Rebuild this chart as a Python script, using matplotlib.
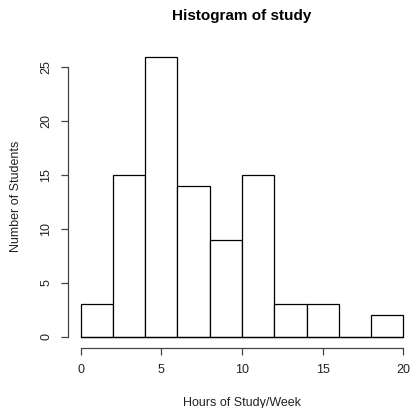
import numpy as np
import matplotlib
matplotlib.use('Agg')
import matplotlib.pyplot as plt

plt.rcParams['font.family'] = ['Liberation Sans', 'DejaVu Sans']

# histogram data
bin_edges = [0, 2, 4, 6, 8, 10, 12, 14, 16, 18, 20]
counts = [3, 15, 26, 14, 9, 15, 3, 3, 0, 2]
x_ticks = [0, 5, 10, 15, 20]
y_ticks = [0, 5, 10, 15, 20, 25]

W, H = 412, 408
fig = plt.figure(figsize=(W / 100, H / 100), dpi=100)

# plot region in pixels (x=0..20, y=0..26)
x0, x1 = 80.7, 403.3
y0, y1 = 336.7, 56.7
ax = fig.add_axes([x0 / W, (H - y0) / H, (x1 - x0) / W, (y0 - y1) / H])

widths = np.diff(bin_edges)
bars = ax.bar(bin_edges[:-1], counts, width=widths, align='edge',
              facecolor='white', edgecolor='black', linewidth=0.9)
for b in bars:
    b.set_clip_on(False)
# R draws the empty bins too, so the baseline runs the full width
ax.plot([bin_edges[0], bin_edges[-1]], [0, 0], color='black', lw=0.9,
        clip_on=False, zorder=3)

ax.set_xlim(0, 20)
ax.set_ylim(0, 26)

for s in ['top', 'right']:
    ax.spines[s].set_visible(False)
ax.spines['left'].set_position(('outward', 13 * 0.72))
ax.spines['bottom'].set_position(('outward', 11.3 * 0.72))
ax.spines['left'].set_bounds(0, 25)
ax.spines['bottom'].set_bounds(0, 20)
for s in ['left', 'bottom']:
    ax.spines[s].set_color('#444444')
    ax.spines[s].set_linewidth(0.9)

ax.set_xticks(x_ticks)
ax.set_yticks(y_ticks)
ax.tick_params(direction='out', length=5, width=0.9, color='#444444',
               labelsize=9, labelcolor='#222222')
ax.tick_params(axis='x', pad=6.5)
ax.tick_params(axis='y', pad=6)
for lab in ax.get_yticklabels():
    lab.set_rotation(90)
    lab.set_va('center')

cx = (x0 + x1) / 2 / W
cy = (H - (y0 + y1) / 2) / H
fig.text(cx, 1 - 16 / H, 'Histogram of study', ha='center', va='center',
         fontsize=11, fontweight='bold')
fig.text(cx, 1 - 403 / H, 'Hours of Study/Week', ha='center', va='center',
         fontsize=9, color='#222222')
fig.text(16 / W, cy, 'Number of Students', ha='center', va='center',
         rotation=90, fontsize=9, color='#222222')

fig.savefig('out.png', dpi=100)
